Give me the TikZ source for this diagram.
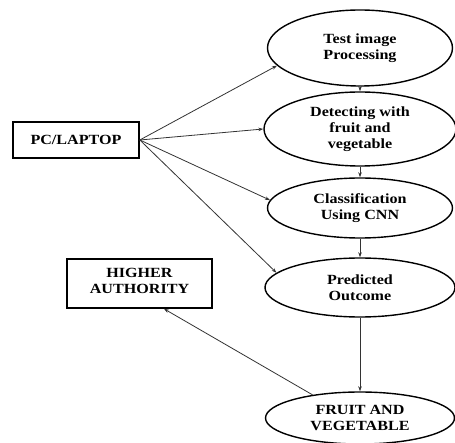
\documentclass[tikz,border=0pt]{standalone}
\usepackage{fontspec}
\setmainfont{Liberation Serif}[FakeStretch=1.15]
\usepackage{tikz}
\usetikzlibrary{shapes.geometric,arrows.meta}

\tikzset{
	oval/.style={draw, ellipse, line width=1.4, inner sep=0, align=center, font=\bfseries\fontsize{14}{16}\selectfont},
	box/.style={draw, rectangle, line width=1.6, inner sep=0, align=center, font=\bfseries\fontsize{14}{16}\selectfont},
	arr/.style={draw=black!80, line width=0.8, -{Stealth[length=5pt,width=3.5pt]}}
}

\begin{document}
\begin{tikzpicture}[x=1pt,y=-1pt]

\useasboundingbox (0,0) rectangle (455,443);

\node[box, minimum width=126, minimum height=36] (pc) at (76,140) {PC/LAPTOP};
\node[box, minimum width=145, minimum height=49, text depth=6pt] (ha) at (139.5,283.5) {HIGHER\\AUTHORITY};

\node[oval, minimum width=185, minimum height=76] (e1) at (360,48) {Test image\\Processing};
\node[oval, minimum width=192, minimum height=74] (e2) at (360,129) {Detecting with\\fruit and\\vegetable};
\node[oval, minimum width=185, minimum height=60] (e3) at (360,208) {Classification\\Using CNN};
\node[oval, minimum width=190, minimum height=59] (e4) at (360,287.5) {Predicted\\Outcome};
\node[oval, minimum width=189, minimum height=52] (e5) at (360,418) {FRUIT AND\\VEGETABLE};

% from the laptop
\draw[arr] (pc.east) -- (e1.192);
\draw[arr] (pc.east) -- (e2.west);
\draw[arr] (pc.east) -- (e3.175);
\draw[arr] (pc.east) -- (e4.170);

% down the chain
\draw[arr] (e1) -- (e2);
\draw[arr] (e2) -- (e3);
\draw[arr] (e3) -- (e4);
\draw[arr] (e4) -- (e5);

\draw[arr] (e5.154) -- (ha.-46);

\end{tikzpicture}
\end{document}
